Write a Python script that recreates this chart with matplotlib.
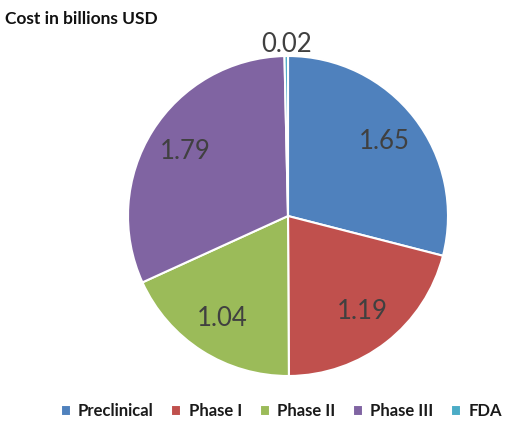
import numpy as np
import matplotlib.pyplot as plt

phases = ['Preclinical', 'Phase I', 'Phase II', 'Phase III', 'FDA']
cost = [1.65, 1.19, 1.04, 1.79, 0.02]
colors = ['#4F81BD', '#C0504D', '#9BBB59', '#8064A2', '#4BACC6']

plt.rcParams['font.family'] = ['Lato', 'DejaVu Sans']

fig = plt.figure(figsize=(5.19, 4.23), dpi=100)
ax = fig.add_axes([128 / 519, 47 / 423, 320 / 519, 320 / 423])

wedges, _ = ax.pie(cost, colors=colors, startangle=90, counterclock=False,
                   wedgeprops=dict(edgecolor='white', linewidth=1.5))
ax.set_xlim(-1, 1)
ax.set_ylim(-1, 1)
ax.set_aspect('equal')

# value labels inside the slices, tiny slice gets its label outside
for w, v in zip(wedges, cost):
    ang = np.deg2rad((w.theta1 + w.theta2) / 2)
    r = 1.07 if v < 0.1 else 0.76
    ax.text(r * np.cos(ang), r * np.sin(ang), f'{v:.2f}', ha='center', va='center',
            fontsize=18.5, color='#404040', clip_on=False)

fig.text(0.01, 0.955, 'Cost in billions USD', fontsize=12.5, fontweight='bold',
         color='#111111', va='center')

fig.legend(wedges, phases, loc='center', bbox_to_anchor=(0.542, 0.028), ncol=5,
           frameon=False, prop=dict(weight='bold', size=12),
           handlelength=0.6, handleheight=0.6, handletextpad=0.45,
           columnspacing=1.05, labelcolor='#1a1a1a')

fig.savefig('out.png', dpi=100)
